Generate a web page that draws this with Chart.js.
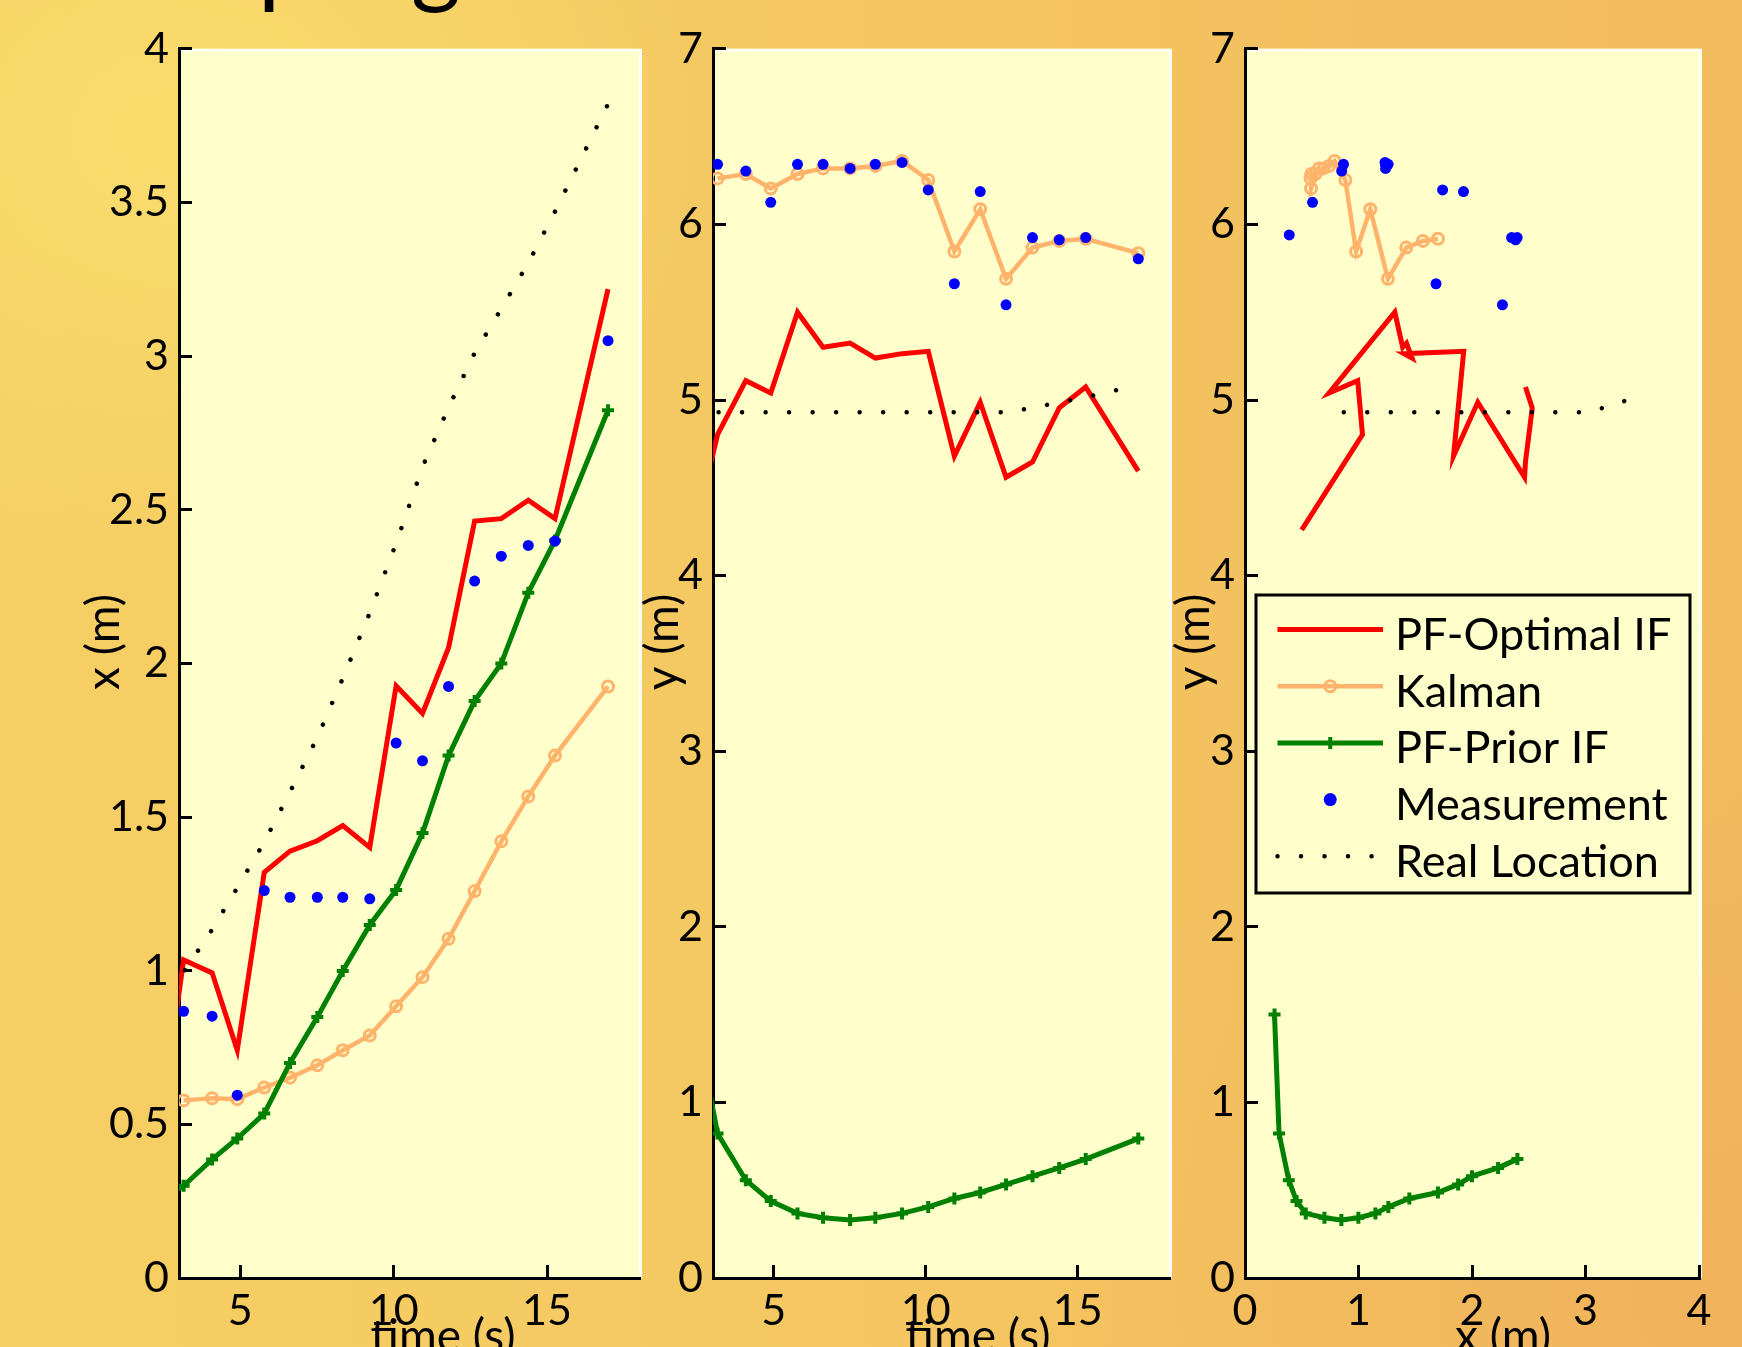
<!DOCTYPE html>
<html>
<head>
<meta charset="utf-8">
<title>PF-Optimal IF vs Kalman vs PF-Prior IF</title>
<script src="https://cdn.jsdelivr.net/npm/chart.js@4.4.1/dist/chart.umd.min.js"></script>
<style>
html, body { margin:0; padding:0; width:1742px; height:1347px; overflow:hidden; }
body {
  background:
    radial-gradient(ellipse 700px 600px at 10% 10%, rgba(250,221,110,0.95), rgba(250,221,110,0) 75%),
    radial-gradient(ellipse 900px 900px at 100% 95%, rgba(240,178,92,0.9), rgba(240,178,92,0) 75%),
    linear-gradient(90deg, #F6CF64 0%, #F5C962 40%, #F3C05E 75%, #F2BB5D 100%);
}
.layer { position:absolute; left:0; top:0; width:1742px; height:1347px; }
</style>
</head>
<body>
<div class="layer"><canvas id="panelX"></canvas></div>
<div class="layer"><canvas id="panelY"></canvas></div>
<div class="layer"><canvas id="panelXY"></canvas></div>
<script>
// ---------------- data ----------------
const seriesNames = ['PF-Optimal IF', 'Kalman', 'PF-Prior IF', 'Measurement', 'Real Location'];
const timeS = [2.41, 3.15, 4.08, 4.90, 5.78, 6.62, 7.51, 8.34, 9.22, 10.08, 10.94, 11.79, 12.64, 13.51, 14.39, 15.26, 16.99];

const pfOptimalX = [0.50, 1.035, 0.993, 0.741, 1.320, 1.389, 1.423, 1.472, 1.401, 1.927, 1.837, 2.051, 2.463, 2.471, 2.531, 2.471, 3.218];
const pfOptimalY = [4.26, 4.803, 5.110, 5.040, 5.500, 5.300, 5.324, 5.239, 5.264, 5.277, 4.680, 4.987, 4.560, 4.647, 4.955, 5.074, 4.595];

const kalmanX = [null, 0.578, 0.585, 0.582, 0.620, 0.652, 0.692, 0.741, 0.789, 0.884, 0.979, 1.104, 1.259, 1.421, 1.567, 1.700, 1.925];
const kalmanY = [null, 6.262, 6.287, 6.205, 6.287, 6.319, 6.319, 6.333, 6.361, 6.253, 5.846, 6.086, 5.690, 5.868, 5.906, 5.918, 5.836];

const pfPriorX = [0.26, 0.300, 0.386, 0.454, 0.535, 0.700, 0.849, 0.999, 1.149, 1.263, 1.448, 1.700, 1.878, 2.000, 2.230, 2.400, 2.824];
const pfPriorY = [1.50, 0.823, 0.557, 0.438, 0.368, 0.343, 0.330, 0.343, 0.368, 0.405, 0.453, 0.487, 0.533, 0.580, 0.627, 0.677, 0.794];

const measurementX = [0.39, 0.868, 0.852, 0.595, 1.261, 1.239, 1.239, 1.239, 1.234, 1.741, 1.683, 1.925, 2.268, 2.349, 2.384, 2.398, 3.050];
const measurementY = [5.94, 6.342, 6.304, 6.126, 6.342, 6.342, 6.319, 6.342, 6.353, 6.196, 5.662, 6.187, 5.542, 5.925, 5.912, 5.925, 5.804];

const realX = [0.87, 0.995, 1.134, 1.270, 1.418, 1.582, 1.759, 1.951, 2.164, 2.391, 2.639, 2.833, 3.010, 3.154, 3.303, 3.470, 3.820];
const realY = [4.93, 4.93, 4.93, 4.93, 4.93, 4.93, 4.93, 4.93, 4.93, 4.93, 4.93, 4.93, 4.93, 4.955, 4.987, 5.016, 5.085];

// samples shown in the x-y trajectory panel
const trajectoryPoints = 16;

// tick labels
const timeTicks = [5, 10, 15];
const xPosTicks = [0, 0.5, 1, 1.5, 2, 2.5, 3, 3.5, 4];
const yPosTicks = [0, 1, 2, 3, 4, 5, 6, 7];
const planeXTicks = [0, 1, 2, 3, 4];

const axisTitleTime = 'time (s)';
const axisTitleX = 'x (m)';
const axisTitleY = 'y (m)';
const slideTitle = 'Sampling';

// ---------------- styling ----------------
const W = 1742, H = 1347, YW = 150;
Chart.defaults.font.family = 'Lato';

const styles = [
  { borderColor:'#FF0000', borderWidth:5, pointRadius:0, showLine:true },
  { borderColor:'#FFB36B', borderWidth:4.5, pointStyle:'circle', pointRadius:5.5, pointBorderWidth:3,
    pointBorderColor:'#FFB36B', pointBackgroundColor:'rgba(255,255,255,0)', showLine:true },
  { borderColor:'#008000', borderWidth:5, pointStyle:'cross', pointRadius:6, pointBorderWidth:4,
    pointBorderColor:'#008000', showLine:true },
  { borderColor:'#0000FF', borderWidth:0, pointStyle:'circle', pointRadius:5.5, pointBorderWidth:0,
    pointBackgroundColor:'#0000FF', showLine:false },
  { borderColor:'#000000', borderWidth:4.5, borderDash:[0.01, 23.5], borderCapStyle:'round', pointRadius:0, showLine:true }
];

function pts(xs, ys, n) {
  const out = [];
  const len = n === undefined ? xs.length : n;
  for (let i = 0; i < len; i++) {
    if (xs[i] !== null && ys[i] !== null) out.push({ x: xs[i], y: ys[i] });
  }
  return out;
}

function buildDatasets(seriesData) {
  return seriesData.map((data, i) => Object.assign({
    label: seriesNames[i], data, order: seriesData.length - i, clip: 0, tension: 0
  }, styles[i]));
}

const plotBg = {
  id: 'plotBg',
  beforeDraw(chart) {
    const { ctx, chartArea: a } = chart;
    ctx.save();
    ctx.fillStyle = '#FFFFCC';
    ctx.fillRect(a.left, a.top, a.right - a.left, a.bottom - a.top);
    ctx.strokeStyle = '#FFFFF4';
    ctx.lineWidth = 3;
    ctx.beginPath();
    ctx.moveTo(a.left, a.top + 1.5);
    ctx.lineTo(a.right + 1.5, a.top + 1.5);
    ctx.lineTo(a.right + 1.5, a.bottom);
    ctx.stroke();
    ctx.restore();
  }
};

function axisTitles(cfg) {
  return {
    id: 'axisTitles',
    afterDraw(chart) {
      const ctx = chart.ctx;
      ctx.save();
      ctx.fillStyle = '#000';
      ctx.font = '46px Lato';
      ctx.textAlign = 'center';
      ctx.textBaseline = 'alphabetic';
      ctx.fillText(cfg.xText, cfg.xCx, cfg.xBase);
      ctx.translate(cfg.yCx, cfg.yCy);
      ctx.rotate(-Math.PI / 2);
      ctx.textBaseline = 'middle';
      ctx.fillText(cfg.yText, 0, 0);
      ctx.restore();
    }
  };
}

const slideTitlePlugin = {
  id: 'slideTitle',
  afterDraw(chart) {
    const ctx = chart.ctx;
    ctx.save();
    ctx.font = '96px Lato';
    ctx.fillStyle = '#000';
    ctx.textBaseline = 'alphabetic';
    ctx.textAlign = 'left';
    const pre = ctx.measureText(slideTitle.slice(0, slideTitle.indexOf('p'))).width;
    ctx.fillText(slideTitle, 258 - pre, -5);
    ctx.restore();
  }
};

function drawMarker(ctx, ds, x, y, r) {
  if (!ds.pointRadius) return;
  ctx.save();
  ctx.setLineDash([]);
  if (ds.pointStyle === 'cross') {
    ctx.strokeStyle = ds.pointBorderColor; ctx.lineWidth = ds.pointBorderWidth;
    ctx.beginPath();
    ctx.moveTo(x - r, y); ctx.lineTo(x + r, y);
    ctx.moveTo(x, y - r); ctx.lineTo(x, y + r);
    ctx.stroke();
  } else {
    ctx.beginPath();
    ctx.arc(x, y, r, 0, Math.PI * 2);
    if (ds.pointBackgroundColor) { ctx.fillStyle = ds.pointBackgroundColor; ctx.fill(); }
    if (ds.pointBorderWidth) { ctx.strokeStyle = ds.pointBorderColor; ctx.lineWidth = ds.pointBorderWidth; ctx.stroke(); }
  }
  ctx.restore();
}

const legendBox = { left:1256, top:595, right:1690, bottom:893, lineX0:1277.5, lineX1:1383, textX:1395, firstBaseline:650, rowStep:56.7 };
const boxLegend = {
  id: 'boxLegend',
  afterDatasetsDraw(chart) {
    const ctx = chart.ctx, b = legendBox;
    ctx.save();
    ctx.fillStyle = '#FFFFCC';
    ctx.fillRect(b.left, b.top, b.right - b.left, b.bottom - b.top);
    ctx.strokeStyle = '#000'; ctx.lineWidth = 3;
    ctx.strokeRect(b.left, b.top, b.right - b.left, b.bottom - b.top);
    chart.data.datasets.forEach((ds, i) => {
      const base = b.firstBaseline + i * b.rowStep;
      const ly = base - 20.5;
      if (ds.showLine) {
        ctx.save();
        ctx.beginPath();
        ctx.setLineDash(ds.borderDash || []);
        ctx.lineCap = ds.borderCapStyle || 'butt';
        ctx.lineWidth = ds.borderWidth;
        ctx.strokeStyle = ds.borderColor;
        ctx.moveTo(b.lineX0, ly); ctx.lineTo(b.lineX1, ly);
        ctx.stroke();
        ctx.restore();
      }
      const r = ds.showLine ? ds.pointRadius : 6.5;
      drawMarker(ctx, ds, (b.lineX0 + b.lineX1) / 2, ly, r);
      ctx.fillStyle = '#000';
      ctx.font = '45px Lato';
      ctx.textAlign = 'left';
      ctx.textBaseline = 'alphabetic';
      ctx.fillText(ds.label, b.textX, base);
    });
    ctx.restore();
  }
};

function axisCommon(extra) {
  return Object.assign({
    type: 'linear',
    grid: { display: true, drawOnChartArea: false, drawTicks: true, tickLength: -13, color: '#000', lineWidth: 3 },
    border: { display: true, color: '#000', width: 3 },
    ticks: { color: '#000', font: { family: 'Lato', size: 43 }, autoSkip: false, maxRotation: 0,
             callback: v => String(v) }
  }, extra);
}

function makeChart(id, area, xr, yr, xt, yt, datasets, titleCfg, extraPlugins) {
  const xAxis = axisCommon({ min: xr[0], max: xr[1], position: 'bottom',
    afterFit: s => { s.height = H - area.bottom; },
    afterBuildTicks: s => { s.ticks = xt.map(v => ({ value: v })); } });
  xAxis.ticks = Object.assign({}, xAxis.ticks, { padding: 20 });
  const yAxis = axisCommon({ min: yr[0], max: yr[1], position: 'left',
    afterFit: s => { s.width = YW; },
    afterBuildTicks: s => { s.ticks = yt.map(v => ({ value: v })); } });
  yAxis.ticks = Object.assign({}, yAxis.ticks, { padding: 23 });
  return new Chart(document.getElementById(id), {
    type: 'scatter',
    data: { datasets },
    options: {
      responsive: true, maintainAspectRatio: false, animation: false, events: [],
      layout: { padding: { left: area.left - YW, right: W - area.right, top: area.top, bottom: 0 } },
      plugins: { legend: { display: false }, tooltip: { enabled: false }, title: { display: false } },
      scales: { x: xAxis, y: yAxis }
    },
    plugins: [plotBg, axisTitles(titleCfg)].concat(extraPlugins || [])
  });
}

// Panel 1: x vs time
makeChart('panelX', { left:179, right:639, top:47, bottom:1278 }, [3, 18], [0, 4], timeTicks, xPosTicks,
  buildDatasets([
    pts(timeS, pfOptimalX), pts(timeS, kalmanX), pts(timeS, pfPriorX), pts(timeS, measurementX), pts(timeS, realX)
  ]),
  { xText: axisTitleTime, xCx: 443, xBase: 1352, yText: axisTitleX, yCx: 104, yCy: 642 },
  [slideTitlePlugin]);

// Panel 2: y vs time
makeChart('panelY', { left:713, right:1169, top:47, bottom:1278 }, [3, 18], [0, 7], timeTicks, yPosTicks,
  buildDatasets([
    pts(timeS, pfOptimalY), pts(timeS, kalmanY), pts(timeS, pfPriorY), pts(timeS, measurementY), pts(timeS, realY)
  ]),
  { xText: axisTitleTime, xCx: 978, xBase: 1352, yText: axisTitleY, yCx: 663, yCy: 642 });

// Panel 3: trajectory y vs x
makeChart('panelXY', { left:1245, right:1699, top:47, bottom:1278 }, [0, 4], [0, 7], planeXTicks, yPosTicks,
  buildDatasets([
    pts(pfOptimalX, pfOptimalY, trajectoryPoints), pts(kalmanX, kalmanY, trajectoryPoints),
    pts(pfPriorX, pfPriorY, trajectoryPoints), pts(measurementX, measurementY, trajectoryPoints),
    pts(realX, realY, trajectoryPoints)
  ]),
  { xText: axisTitleX, xCx: 1503, xBase: 1352, yText: axisTitleY, yCx: 1194, yCy: 642 },
  [boxLegend]);
</script>
</body>
</html>
